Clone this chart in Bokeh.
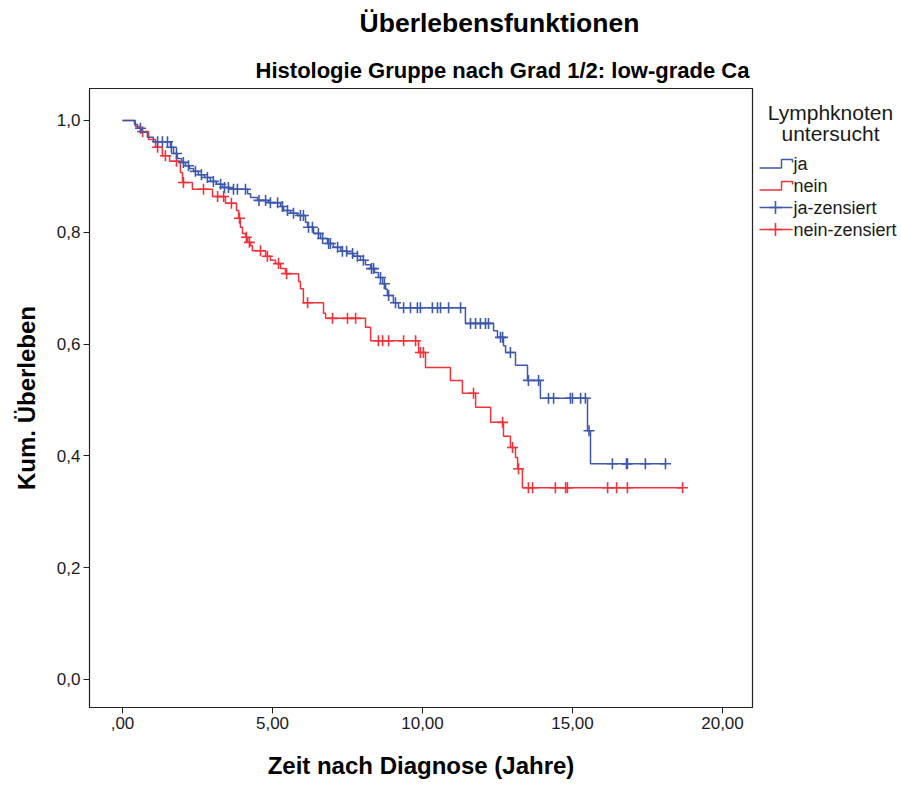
import numpy as np
from bokeh.plotting import figure
from bokeh.layouts import column, row
from bokeh.models import Range1d, FixedTicker, CustomJSTickFormatter
from bokeh.core.properties import value
from bokeh.embed import file_html
from bokeh.resources import INLINE

# ---------------- data ----------------
# group "ja": event times (years) and survival after each event
ja_event_t = [0.40, 0.50, 0.63, 0.83, 1.03, 1.60, 1.70, 1.83, 1.97, 2.10,
              2.23, 2.37, 2.53, 2.73, 2.93, 3.13, 3.33, 3.57, 4.17, 4.27,
              4.50, 4.87, 5.27, 5.37, 5.60, 5.83, 6.10, 6.17, 6.37, 6.60,
              6.83, 7.03, 7.27, 7.50, 7.70, 7.93, 8.10, 8.27, 8.40, 8.53,
              8.67, 8.77, 8.83, 9.03, 9.20, 11.43, 12.37, 12.50, 12.70, 12.77,
              13.10, 13.50, 13.93, 15.50, 15.60]
ja_event_s = [0.993, 0.986, 0.979, 0.970, 0.962, 0.952, 0.941, 0.932, 0.925, 0.919,
              0.914, 0.909, 0.903, 0.898, 0.891, 0.886, 0.880, 0.877, 0.869, 0.862,
              0.857, 0.853, 0.846, 0.839, 0.834, 0.830, 0.818, 0.809, 0.798, 0.789,
              0.780, 0.773, 0.766, 0.762, 0.757, 0.750, 0.742, 0.735, 0.728, 0.719,
              0.708, 0.698, 0.687, 0.674, 0.665, 0.637, 0.624, 0.612, 0.597, 0.585,
              0.562, 0.535, 0.503, 0.445, 0.386]
ja_cens_t = [0.60, 1.17, 1.33, 1.50, 1.63, 1.80, 2.03, 2.20, 2.43, 2.63,
             2.83, 3.03, 3.27, 3.40, 3.53, 3.70, 3.83, 4.10, 4.55, 4.77,
             4.93, 5.17, 5.33, 5.50, 5.70, 5.93, 6.03, 6.20, 6.33, 6.53,
             6.67, 6.87, 6.93, 7.17, 7.33, 7.47, 7.67, 7.83, 8.03, 8.30,
             8.37, 8.60, 8.73, 8.87, 9.10, 9.37, 9.60, 9.83, 9.93, 10.33,
             10.50, 10.60, 10.87, 11.27, 11.60, 11.77, 11.93, 12.10, 12.20, 12.60,
             12.67, 12.93, 13.53, 13.87, 14.20, 14.37, 14.93, 15.00, 15.27, 15.43,
             15.55, 16.33, 16.80, 16.83, 17.43, 18.10]

# group "nein"
nein_event_t = [0.43, 0.60, 0.87, 1.10, 1.33, 1.57, 1.93, 2.00, 2.33, 3.00,
                3.43, 3.80, 3.87, 3.93, 4.00, 4.10, 4.17, 4.27, 4.33, 4.77,
                4.93, 5.10, 5.27, 5.43, 5.87, 5.93, 6.03, 6.70, 6.77, 8.10,
                8.27, 9.87, 10.10, 10.93, 11.33, 11.77, 12.27, 12.70, 12.93, 13.10,
                13.17, 13.33]
nein_event_s = [0.989, 0.980, 0.966, 0.952, 0.937, 0.927, 0.907, 0.889, 0.877, 0.864,
                0.852, 0.839, 0.825, 0.809, 0.798, 0.791, 0.782, 0.776, 0.767, 0.757,
                0.750, 0.744, 0.735, 0.726, 0.712, 0.699, 0.674, 0.655, 0.646, 0.630,
                0.606, 0.585, 0.558, 0.535, 0.512, 0.487, 0.460, 0.435, 0.415, 0.397,
                0.377, 0.343]
nein_cens_t = [0.67, 1.17, 1.43, 1.80, 2.03, 2.70, 3.17, 3.37, 3.63, 3.90,
               4.13, 4.23, 4.60, 4.83, 5.20, 5.47, 6.17, 7.00, 7.50, 7.77,
               8.53, 8.67, 8.87, 9.37, 9.77, 9.93, 10.03, 11.70, 12.67, 13.00,
               13.20, 13.53, 13.67, 14.43, 14.77, 14.83, 16.17, 16.47, 16.83, 18.67]

x_ticks = [0, 5, 10, 15, 20]
y_ticks = [0.0, 0.2, 0.4, 0.6, 0.8, 1.0]

title_text = "Überlebensfunktionen"
subtitle_text = "Histologie Gruppe nach Grad 1/2: low-grade Ca"
x_label = "Zeit nach Diagnose (Jahre)"
y_label = "Kum. Überleben"
legend_title = ["Lymphknoten", "untersucht"]
legend_labels = ["ja", "nein", "ja-zensiert", "nein-zensiert"]

# ---------------- styles ----------------
BLUE = "#3e58ac"
RED = "#f0323a"
FONT = "Liberation Sans"
TXT = "#1a1a1a"
LW = 1.5


def step_xy(ev_t, ev_s, cens_t):
    end = max(max(cens_t), max(ev_t))
    xs = [0.0] + list(ev_t) + [end]
    ys = [1.0] + list(ev_s) + [ev_s[-1]]
    return xs, ys


def surv_at(ev_t, ev_s, times):
    idx = np.searchsorted(np.array(ev_t), np.array(times), side="right")
    return [1.0 if i == 0 else ev_s[i - 1] for i in idx]


# ---------------- main plot ----------------
p = figure(width=755, height=701, output_backend="svg", toolbar_location=None,
           x_range=Range1d(-1.1, 21.0), y_range=Range1d(-0.0501, 1.0572),
           min_border_left=89, min_border_right=3, min_border_top=4,
           min_border_bottom=78)
p.background_fill_color = "white"
p.border_fill_color = "white"
p.grid.visible = False
p.outline_line_color = "#222222"
p.outline_line_width = 1.2

for ev_t, ev_s, c_t, col in [(nein_event_t, nein_event_s, nein_cens_t, RED),
                             (ja_event_t, ja_event_s, ja_cens_t, BLUE)]:
    xs, ys = step_xy(ev_t, ev_s, c_t)
    p.step(xs, ys, mode="after", line_color=col, line_width=LW)
    p.scatter(c_t, surv_at(ev_t, ev_s, c_t), marker="cross", size=11,
              line_color=col, line_width=1.6)

for ax in (p.xaxis[0], p.yaxis[0]):
    ax.axis_line_color = "#222222"
    ax.major_tick_line_color = "#222222"
    ax.major_tick_out = 6
    ax.major_tick_in = 0
    ax.minor_tick_line_color = None
    ax.major_label_text_font = FONT
    ax.major_label_text_font_size = "17px"
    ax.major_label_text_color = TXT
    ax.major_label_standoff = 3
    ax.axis_label_text_font = FONT
    ax.axis_label_text_font_size = "24px"
    ax.axis_label_text_font_style = "bold"
    ax.axis_label_text_color = "#000000"

p.xaxis.ticker = FixedTicker(ticks=x_ticks)
p.yaxis.ticker = FixedTicker(ticks=y_ticks)
p.xaxis.formatter = CustomJSTickFormatter(
    code="return tick == 0 ? ',00' : tick.toFixed(2).replace('.', ',');")
p.yaxis.formatter = CustomJSTickFormatter(
    code="return tick.toFixed(1).replace('.', ',');")
p.xaxis.axis_label = x_label
p.yaxis.axis_label = y_label
p.xaxis.axis_label_standoff = 20
p.yaxis.axis_label_standoff = 14

# ---------------- title strip (page pixels, y from top) ----------------
tf = figure(width=901, height=84, output_backend="svg", toolbar_location=None,
            x_range=Range1d(0, 901), y_range=Range1d(84, 0),
            x_axis_location=None, y_axis_location=None,
            min_border=0, min_border_left=0, min_border_right=0,
            min_border_top=0, min_border_bottom=0)
tf.grid.visible = False
tf.outline_line_color = None
tf.background_fill_color = "white"
tf.border_fill_color = "white"
tf.text(x=[499], y=[22], text=[title_text], text_font=value(FONT),
        text_font_size="26.5px", text_font_style="bold", text_align="center",
        text_baseline="middle", text_color="#000000")
tf.text(x=[502], y=[70], text=[subtitle_text], text_font=value(FONT),
        text_font_size="22px", text_font_style="bold", text_align="center",
        text_baseline="middle", text_color="#000000")

# ---------------- legend panel (frame aligned with main frame: page y 88..707) ----------------
lf = figure(width=146, height=701, output_backend="svg", toolbar_location=None,
            x_range=Range1d(755, 901), y_range=Range1d(707, 88),
            x_axis_location=None, y_axis_location=None,
            min_border=0, min_border_left=0, min_border_right=0,
            min_border_top=4, min_border_bottom=78)
lf.grid.visible = False
lf.outline_line_color = None
lf.background_fill_color = "white"
lf.border_fill_color = "white"

lf.text(x=[830, 830], y=[112, 133], text=legend_title, text_font=value(FONT),
        text_font_size="21px", text_align="center", text_baseline="middle",
        text_color=TXT)
centers = [163, 185, 207, 229]
lf.text(x=[793] * 4, y=centers, text=legend_labels, text_font=value(FONT),
        text_font_size="18px", text_align="left", text_baseline="middle",
        text_color=TXT)
for cy, col in [(centers[0], BLUE), (centers[1], RED)]:
    lf.line([759, 781, 781, 792, 792], [cy + 4.5, cy + 4.5, cy - 4, cy - 4, cy - 1],
            line_color=col, line_width=LW)
for cy, col in [(centers[2], BLUE), (centers[3], RED)]:
    lf.line([759, 792], [cy, cy], line_color=col, line_width=LW)
    lf.scatter([775], [cy], marker="cross", size=13, line_color=col, line_width=1.6)

layout = column(tf, row(p, lf, spacing=0), spacing=0)
open("out.html", "w").write(file_html(layout, INLINE))
